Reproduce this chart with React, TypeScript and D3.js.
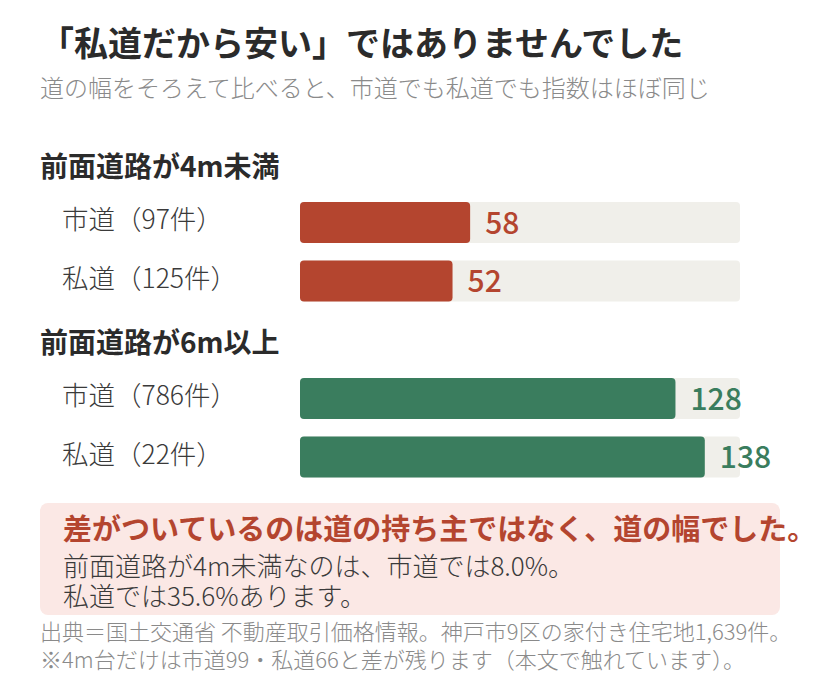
import { useRef, useEffect } from "react"
import * as d3 from "d3"

const title = "「私道だから安い」ではありませんでした"
const subtitle = "道の幅をそろえて比べると、市道でも私道でも指数はほぼ同じ"
const groups = ["前面道路が4m未満", "前面道路が6m以上"]
const roadTypes = ["市道", "私道"]
const counts = [
  [97, 125],
  [786, 22],
]
const indexValues = [
  [58, 52],
  [128, 138],
]
const groupColors = ["#b4452f", "#3a7d5e"]
const calloutHead = "差がついているのは道の持ち主ではなく、道の幅でした。"
const calloutBody = ["前面道路が4m未満なのは、市道では8.0%。", "私道では35.6%あります。"]
const notes = [
  "出典＝国土交通省 不動産取引価格情報。神戸市9区の家付き住宅地1,639件。",
  "※4m台だけは市道99・私道66と差が残ります（本文で触れています）。",
]

export default function App() {
  const svgRef = useRef<SVGSVGElement>(null)

  function drawChart() {
    const width = 820
    const height = 698
    const font = "'Noto Sans CJK JP', 'Noto Sans', sans-serif"

    const svg = d3.select(svgRef.current).attr("width", width).attr("height", height)
    svg.selectAll("*").remove()
    svg.style("font-family", font)

    // Heading
    svg
      .append("text")
      .text(title)
      .attr("x", 40)
      .attr("y", 56)
      .attr("font-size", 34)
      .attr("font-weight", 700)
      .attr("fill", "#2b2b2b")
    svg
      .append("text")
      .text(subtitle)
      .attr("x", 40)
      .attr("y", 97)
      .attr("font-size", 24)
      .attr("font-weight", 300)
      .attr("fill", "#8a8a8a")

    // Bars
    const x = d3.scaleLinear().domain([0, 150]).range([300, 740])
    const groupTop = [202, 378]
    const row = d3.scaleBand<number>().domain([0, 1]).range([0, 99.5]).paddingInner(0.3)

    groups.forEach((g, gi) => {
      const grp = svg.append("g").attr("transform", `translate(0, ${groupTop[gi]})`)

      grp
        .append("text")
        .text(g)
        .attr("x", 40)
        .attr("y", -25)
        .attr("font-size", 28)
        .attr("font-weight", 700)
        .attr("fill", "#2b2b2b")

      const rows = grp
        .selectAll("g.row")
        .data(indexValues[gi])
        .enter()
        .append("g")
        .attr("class", "row")
        .attr("transform", (d, i) => `translate(0, ${row(i)})`)

      rows
        .append("text")
        .text((d, i) => `${roadTypes[i]}（${counts[gi][i]}件）`)
        .attr("x", 62)
        .attr("y", row.bandwidth() / 2 + 6.5)
        .attr("font-size", 26.5)
        .attr("font-weight", 300)
        .attr("fill", "#3a3a3a")

      rows
        .append("rect")
        .attr("x", x(0))
        .attr("y", 0)
        .attr("width", x(150) - x(0))
        .attr("height", row.bandwidth())
        .attr("rx", 4)
        .attr("fill", "#f0efea")

      rows
        .append("rect")
        .attr("x", x(0))
        .attr("y", 0)
        .attr("width", (d) => x(d) - x(0))
        .attr("height", row.bandwidth())
        .attr("rx", 4)
        .attr("fill", groupColors[gi])

      rows
        .append("text")
        .text((d) => d)
        .attr("x", (d) => x(d) + 15)
        .attr("y", row.bandwidth() / 2 + 11)
        .attr("font-size", 30)
        .attr("font-weight", 500)
        .attr("fill", groupColors[gi])
    })

    // Callout
    svg
      .append("rect")
      .attr("x", 40)
      .attr("y", 503)
      .attr("width", 740)
      .attr("height", 112)
      .attr("rx", 8)
      .attr("fill", "#fbe8e5")
    svg
      .append("text")
      .text(calloutHead)
      .attr("x", 63)
      .attr("y", 540)
      .attr("font-size", 29)
      .attr("font-weight", 700)
      .attr("fill", "#b4452f")
    svg
      .selectAll("text.body")
      .data(calloutBody)
      .enter()
      .append("text")
      .attr("class", "body")
      .text((d) => d)
      .attr("x", 63)
      .attr("y", (d, i) => 576 + i * 30)
      .attr("font-size", 26)
      .attr("font-weight", 300)
      .attr("fill", "#3a3a3a")

    // Notes
    svg
      .selectAll("text.note")
      .data(notes)
      .enter()
      .append("text")
      .attr("class", "note")
      .text((d) => d)
      .attr("x", 40)
      .attr("y", (d, i) => 640 + i * 28)
      .attr("font-size", 22)
      .attr("font-weight", 300)
      .attr("fill", "#8a8a8a")
  }

  useEffect(() => {
    drawChart()
  }, [svgRef])

  return (
    <div style={{ margin: -8 }}>
      <svg ref={svgRef}></svg>
    </div>
  )
}
